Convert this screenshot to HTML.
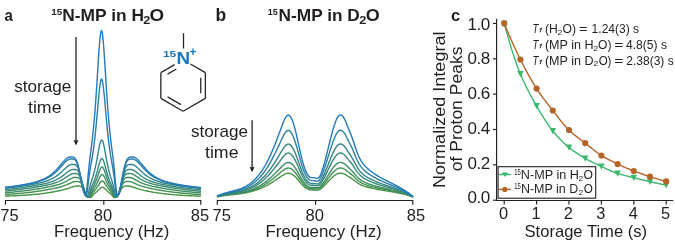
<!DOCTYPE html><html><head><meta charset="utf-8"><style>html,body{margin:0;padding:0;background:#fff;}svg{display:block;will-change:transform;}text{font-family:"Liberation Sans",sans-serif;fill:#231f20;}</style></head><body>
<svg xmlns="http://www.w3.org/2000/svg" width="675" height="242" viewBox="0 0 675 242">
<rect width="675" height="242" fill="#fff"/>
<text x="4.5" y="20.9" font-size="16.6" font-weight="bold" textLength="8.3" lengthAdjust="spacingAndGlyphs">a</text>
<text x="215.5" y="21.1" font-size="17.5" font-weight="bold">b</text>
<text x="451.0" y="20.9" font-size="16.5" font-weight="bold">c</text>
<text x="51.19" y="14.90" font-size="9.6" font-weight="bold" textLength="10.89" lengthAdjust="spacingAndGlyphs">15</text>
<text x="62.28" y="21.10" font-size="17" font-weight="bold" textLength="81.77" lengthAdjust="spacingAndGlyphs">N-MP in H</text>
<text x="143.19" y="24.20" font-size="10.2" font-weight="bold" textLength="7.03" lengthAdjust="spacingAndGlyphs">2</text>
<text x="149.49" y="21.40" font-size="17.4" font-weight="bold" textLength="14.66" lengthAdjust="spacingAndGlyphs">O</text>
<text x="267.83" y="15.30" font-size="9.6" font-weight="bold" textLength="10.03" lengthAdjust="spacingAndGlyphs">15</text>
<text x="278.58" y="21.10" font-size="17" font-weight="bold" textLength="81.25" lengthAdjust="spacingAndGlyphs">N-MP in D</text>
<text x="359.38" y="24.20" font-size="10.2" font-weight="bold" textLength="7.15" lengthAdjust="spacingAndGlyphs">2</text>
<text x="365.83" y="21.40" font-size="17.4" font-weight="bold" textLength="13.98" lengthAdjust="spacingAndGlyphs">O</text>
<line x1="190.44" y1="64.04" x2="205.36" y2="72.65" stroke="#2a2627" stroke-width="1.3" stroke-linecap="butt"/>
<line x1="205.36" y1="72.65" x2="205.36" y2="98.35" stroke="#2a2627" stroke-width="1.3" stroke-linecap="butt"/>
<line x1="205.36" y1="98.35" x2="183.10" y2="111.20" stroke="#2a2627" stroke-width="1.3" stroke-linecap="butt"/>
<line x1="183.10" y1="111.20" x2="160.84" y2="98.35" stroke="#2a2627" stroke-width="1.3" stroke-linecap="butt"/>
<line x1="160.84" y1="98.35" x2="160.84" y2="72.65" stroke="#2a2627" stroke-width="1.3" stroke-linecap="butt"/>
<line x1="160.84" y1="72.65" x2="174.64" y2="64.68" stroke="#2a2627" stroke-width="1.3" stroke-linecap="butt"/>
<line x1="200.76" y1="77.75" x2="200.76" y2="93.25" stroke="#2a2627" stroke-width="1.3" stroke-linecap="butt"/>
<line x1="180.98" y1="104.67" x2="167.56" y2="96.92" stroke="#2a2627" stroke-width="1.3" stroke-linecap="butt"/>
<line x1="167.56" y1="74.08" x2="176.39" y2="68.99" stroke="#2a2627" stroke-width="1.3" stroke-linecap="butt"/>
<line x1="183.5" y1="33.2" x2="183.5" y2="48.5" stroke="#2a2627" stroke-width="1.3"/>
<text x="162.9" y="57.0" font-size="9.8" font-weight="bold" textLength="13.3" lengthAdjust="spacingAndGlyphs" style="fill:#1a75bb">15</text>
<text x="176.4" y="63.7" font-size="16.3" font-weight="bold" textLength="13.6" lengthAdjust="spacingAndGlyphs" style="fill:#1a75bb">N</text>
<text x="189.5" y="55.6" font-size="12" font-weight="bold" style="fill:#1a75bb">+</text>
<text x="14.3" y="91.8" font-size="17" textLength="57" lengthAdjust="spacingAndGlyphs">storage</text>
<text x="28.0" y="112.9" font-size="17" textLength="33.5" lengthAdjust="spacingAndGlyphs">time</text>
<line x1="76.0" y1="36.9" x2="76.0" y2="142.0" stroke="#231f20" stroke-width="1.3"/>
<path d="M76.00,145.50 L73.50,140.10 L76.00,140.70 L78.50,140.10 Z" fill="#231f20"/>
<text x="191.0" y="137.1" font-size="17" textLength="57" lengthAdjust="spacingAndGlyphs">storage</text>
<text x="205.0" y="158.2" font-size="17" textLength="33.5" lengthAdjust="spacingAndGlyphs">time</text>
<line x1="252.1" y1="120.2" x2="252.1" y2="168.7" stroke="#231f20" stroke-width="1.3"/>
<path d="M252.10,172.20 L249.60,166.80 L252.10,167.40 L254.60,166.80 Z" fill="#231f20"/>
<path d="M5.00,196.11L6.00,196.08L7.00,196.04L8.00,196.01L9.00,195.97L10.00,195.94L11.00,195.90L12.00,195.86L13.00,195.81L14.00,195.77L15.00,195.73L16.00,195.68L17.00,195.63L18.00,195.58L19.00,195.53L20.00,195.48L21.00,195.42L22.00,195.36L23.00,195.30L24.00,195.24L25.00,195.18L26.00,195.11L27.00,195.04L28.00,194.97L29.00,194.89L30.00,194.82L31.00,194.74L32.00,194.65L33.00,194.57L34.00,194.48L35.00,194.38L36.00,194.28L37.00,194.18L38.00,194.08L39.00,193.97L40.00,193.86L41.00,193.74L42.00,193.62L43.00,193.49L44.00,193.36L45.00,193.22L46.00,193.08L47.00,192.93L48.00,192.78L49.00,192.63L50.00,192.46L51.00,192.30L52.00,192.12L53.00,191.95L54.00,191.76L55.00,191.57L56.00,191.38L57.00,191.18L58.00,190.97L59.00,190.76L60.00,190.54L61.00,190.31L62.00,190.07L63.00,189.83L64.00,189.58L65.00,189.31L66.00,189.03L67.00,188.74L68.00,188.43L69.00,188.11L70.00,187.76L71.00,187.41L72.00,187.05L73.00,186.71L74.00,186.40L75.00,186.17L76.00,186.03L77.00,186.00L78.00,186.00L79.00,186.04L80.00,186.18L80.50,186.33L81.00,186.55L81.50,186.86L82.00,187.28L82.50,187.83L83.00,188.51L83.50,189.32L84.00,190.24L84.50,191.25L85.00,192.30L85.50,193.34L86.00,194.32L86.50,195.19L87.00,195.92L87.50,196.49L88.00,196.89L88.50,197.17L89.00,197.33L89.50,197.42L90.00,197.47L90.50,197.46L91.00,197.32L91.50,196.93L92.00,196.31L92.50,195.61L93.00,194.96L93.50,194.40L94.00,193.93L94.50,193.51L95.00,193.12L95.50,192.73L96.00,192.33L96.50,191.91L97.00,191.46L97.50,190.99L98.00,190.50L98.50,189.99L99.00,189.48L99.50,188.99L100.00,188.52L100.50,188.10L101.00,187.75L101.50,187.49L102.00,187.34L102.50,187.30L103.00,187.39L103.50,187.59L104.00,187.89L104.50,188.27L105.00,188.71L105.50,189.20L106.00,189.70L106.50,190.21L107.00,190.71L107.50,191.20L108.00,191.66L108.50,192.09L109.00,192.50L109.50,192.90L110.00,193.29L110.50,193.68L111.00,194.12L111.50,194.63L112.00,195.23L112.50,195.92L113.00,196.60L113.50,197.13L114.00,197.41L114.50,197.47L115.00,197.45L115.50,197.39L116.00,197.27L116.50,197.06L117.00,196.74L117.50,196.26L118.00,195.63L118.50,194.83L119.00,193.91L119.50,192.89L120.00,191.84L120.50,190.80L121.00,189.83L121.50,188.95L122.00,188.20L122.50,187.58L123.00,187.09L124.00,186.44L125.00,186.14L126.00,186.03L127.00,186.00L128.00,186.00L129.00,186.05L130.00,186.21L131.00,186.47L132.00,186.78L133.00,187.13L134.00,187.49L135.00,187.84L136.00,188.18L137.00,188.50L138.00,188.80L139.00,189.09L140.00,189.37L141.00,189.63L142.00,189.88L143.00,190.12L144.00,190.36L145.00,190.58L146.00,190.80L147.00,191.01L148.00,191.22L149.00,191.42L150.00,191.61L151.00,191.80L152.00,191.99L153.00,192.16L154.00,192.33L155.00,192.50L156.00,192.66L157.00,192.82L158.00,192.97L159.00,193.11L160.00,193.25L161.00,193.39L162.00,193.52L163.00,193.64L164.00,193.76L165.00,193.88L166.00,193.99L167.00,194.10L168.00,194.21L169.00,194.31L170.00,194.40L171.00,194.50L172.00,194.59L173.00,194.67L174.00,194.75L175.00,194.83L176.00,194.91L177.00,194.99L178.00,195.06L179.00,195.13L180.00,195.19L181.00,195.26L182.00,195.32L183.00,195.38L184.00,195.43L185.00,195.49L186.00,195.54L187.00,195.59L188.00,195.64L189.00,195.69L190.00,195.74L191.00,195.78L192.00,195.82L193.00,195.86L194.00,195.90L195.00,195.94L196.00,195.98L197.00,196.02L198.00,196.05L199.00,196.09L200.00,196.12L201.00,196.15" fill="none" stroke="#489446" stroke-width="1.4" stroke-linejoin="round"/>
<path d="M5.00,194.50L6.00,194.44L7.00,194.38L8.00,194.31L9.00,194.24L10.00,194.17L11.00,194.10L12.00,194.03L13.00,193.95L14.00,193.88L15.00,193.80L16.00,193.72L17.00,193.63L18.00,193.55L19.00,193.46L20.00,193.37L21.00,193.27L22.00,193.18L23.00,193.08L24.00,192.98L25.00,192.87L26.00,192.77L27.00,192.66L28.00,192.55L29.00,192.43L30.00,192.31L31.00,192.19L32.00,192.07L33.00,191.94L34.00,191.81L35.00,191.67L36.00,191.53L37.00,191.39L38.00,191.25L39.00,191.10L40.00,190.95L41.00,190.79L42.00,190.63L43.00,190.47L44.00,190.30L45.00,190.13L46.00,189.96L47.00,189.78L48.00,189.60L49.00,189.41L50.00,189.22L51.00,189.03L52.00,188.83L53.00,188.62L54.00,188.41L55.00,188.19L56.00,187.97L57.00,187.74L58.00,187.50L59.00,187.25L60.00,186.98L61.00,186.71L62.00,186.42L63.00,186.11L64.00,185.78L65.00,185.42L66.00,185.04L67.00,184.64L68.00,184.20L69.00,183.75L70.00,183.28L71.00,182.82L72.00,182.38L73.00,182.00L74.00,181.70L75.00,181.53L76.00,181.50L77.00,181.50L78.00,181.55L79.00,181.72L80.00,182.16L80.50,182.53L81.00,183.03L81.50,183.68L82.00,184.50L82.50,185.48L83.00,186.62L83.50,187.88L84.00,189.24L84.50,190.63L85.00,191.99L85.50,193.26L86.00,194.39L86.50,195.33L87.00,196.07L87.50,196.62L88.00,196.99L88.50,197.23L89.00,197.37L89.50,197.42L90.00,197.34L90.50,196.96L91.00,196.23L91.50,195.26L92.00,194.26L92.50,193.37L93.00,192.59L93.50,191.92L94.00,191.32L94.50,190.73L95.00,190.15L95.50,189.54L96.00,188.89L96.50,188.20L97.00,187.47L97.50,186.70L98.00,185.90L98.50,185.09L99.00,184.27L99.50,183.48L100.00,182.75L100.50,182.10L101.00,181.58L101.50,181.21L102.00,181.02L102.50,181.02L103.00,181.21L103.50,181.58L104.00,182.10L104.50,182.75L105.00,183.48L105.50,184.27L106.00,185.08L106.50,185.90L107.00,186.70L107.50,187.47L108.00,188.20L108.50,188.89L109.00,189.53L109.50,190.15L110.00,190.73L110.50,191.32L111.00,191.92L111.50,192.59L112.00,193.36L112.50,194.26L113.00,195.26L113.50,196.22L114.00,196.96L114.50,197.34L115.00,197.42L115.50,197.37L116.00,197.23L116.50,196.99L117.00,196.62L117.50,196.07L118.00,195.33L118.50,194.39L119.00,193.26L119.50,191.99L120.00,190.63L120.50,189.24L121.00,187.89L121.50,186.62L122.00,185.49L122.50,184.50L123.00,183.69L124.00,182.53L125.00,181.89L126.00,181.61L127.00,181.52L128.00,181.50L129.00,181.50L130.00,181.60L131.00,181.84L132.00,182.18L133.00,182.59L134.00,183.05L135.00,183.52L136.00,183.98L137.00,184.42L138.00,184.84L139.00,185.23L140.00,185.60L141.00,185.94L142.00,186.26L143.00,186.56L144.00,186.85L145.00,187.12L146.00,187.37L147.00,187.62L148.00,187.85L149.00,188.08L150.00,188.30L151.00,188.52L152.00,188.72L153.00,188.93L154.00,189.12L155.00,189.32L156.00,189.51L157.00,189.69L158.00,189.87L159.00,190.05L160.00,190.22L161.00,190.39L162.00,190.55L163.00,190.71L164.00,190.87L165.00,191.02L166.00,191.17L167.00,191.32L168.00,191.46L169.00,191.60L170.00,191.74L171.00,191.87L172.00,192.00L173.00,192.13L174.00,192.25L175.00,192.37L176.00,192.49L177.00,192.60L178.00,192.71L179.00,192.82L180.00,192.93L181.00,193.03L182.00,193.13L183.00,193.23L184.00,193.32L185.00,193.41L186.00,193.50L187.00,193.59L188.00,193.67L189.00,193.76L190.00,193.84L191.00,193.92L192.00,193.99L193.00,194.07L194.00,194.14L195.00,194.21L196.00,194.28L197.00,194.34L198.00,194.41L199.00,194.47L200.00,194.53L201.00,194.59" fill="none" stroke="#449153" stroke-width="1.4" stroke-linejoin="round"/>
<path d="M5.00,192.81L6.00,192.73L7.00,192.64L8.00,192.56L9.00,192.47L10.00,192.37L11.00,192.28L12.00,192.18L13.00,192.09L14.00,191.99L15.00,191.88L16.00,191.78L17.00,191.67L18.00,191.56L19.00,191.45L20.00,191.34L21.00,191.22L22.00,191.10L23.00,190.98L24.00,190.86L25.00,190.73L26.00,190.60L27.00,190.47L28.00,190.34L29.00,190.20L30.00,190.07L31.00,189.92L32.00,189.78L33.00,189.63L34.00,189.48L35.00,189.33L36.00,189.18L37.00,189.02L38.00,188.86L39.00,188.69L40.00,188.53L41.00,188.36L42.00,188.18L43.00,188.00L44.00,187.82L45.00,187.64L46.00,187.45L47.00,187.26L48.00,187.06L49.00,186.85L50.00,186.64L51.00,186.43L52.00,186.20L53.00,185.97L54.00,185.73L55.00,185.47L56.00,185.21L57.00,184.93L58.00,184.63L59.00,184.32L60.00,183.98L61.00,183.62L62.00,183.23L63.00,182.81L64.00,182.36L65.00,181.88L66.00,181.36L67.00,180.82L68.00,180.25L69.00,179.67L70.00,179.10L71.00,178.57L72.00,178.12L73.00,177.77L74.00,177.56L75.00,177.50L76.00,177.50L77.00,177.54L78.00,177.71L79.00,178.15L80.00,179.05L80.50,179.73L81.00,180.59L81.50,181.63L82.00,182.87L82.50,184.27L83.00,185.81L83.50,187.44L84.00,189.09L84.50,190.71L85.00,192.22L85.50,193.56L86.00,194.70L86.50,195.60L87.00,196.29L87.50,196.77L88.00,197.09L88.50,197.28L89.00,197.34L89.50,197.13L90.00,196.50L90.50,195.46L91.00,194.22L91.50,192.98L92.00,191.88L92.50,190.92L93.00,190.07L93.50,189.29L94.00,188.53L94.50,187.76L95.00,186.96L95.50,186.11L96.00,185.20L96.50,184.23L97.00,183.20L97.50,182.12L98.00,181.00L98.50,179.87L99.00,178.74L99.50,177.67L100.00,176.68L100.50,175.83L101.00,175.16L101.50,174.71L102.00,174.51L102.50,174.57L103.00,174.90L103.50,175.46L104.00,176.23L104.50,177.16L105.00,178.20L105.50,179.30L106.00,180.44L106.50,181.57L107.00,182.67L107.50,183.72L108.00,184.72L108.50,185.66L109.00,186.54L109.50,187.37L110.00,188.15L110.50,188.91L111.00,189.67L111.50,190.48L112.00,191.38L112.50,192.41L113.00,193.59L113.50,194.85L114.00,196.02L114.50,196.87L115.00,197.28L115.50,197.33L116.00,197.20L116.50,196.95L117.00,196.55L117.50,195.97L118.00,195.18L118.50,194.16L119.00,192.91L119.50,191.48L120.00,189.91L120.50,188.27L121.00,186.62L121.50,185.03L122.00,183.55L122.50,182.23L123.00,181.09L124.00,179.37L125.00,178.32L126.00,177.79L127.00,177.57L128.00,177.51L129.00,177.50L130.00,177.53L131.00,177.70L132.00,178.02L133.00,178.45L134.00,178.96L135.00,179.53L136.00,180.10L137.00,180.68L138.00,181.23L139.00,181.75L140.00,182.25L141.00,182.71L142.00,183.13L143.00,183.53L144.00,183.89L145.00,184.24L146.00,184.56L147.00,184.86L148.00,185.14L149.00,185.41L150.00,185.67L151.00,185.91L152.00,186.15L153.00,186.37L154.00,186.59L155.00,186.80L156.00,187.01L157.00,187.21L158.00,187.40L159.00,187.59L160.00,187.78L161.00,187.96L162.00,188.14L163.00,188.31L164.00,188.48L165.00,188.65L166.00,188.82L167.00,188.98L168.00,189.14L169.00,189.29L170.00,189.45L171.00,189.60L172.00,189.74L173.00,189.89L174.00,190.03L175.00,190.17L176.00,190.31L177.00,190.44L178.00,190.57L179.00,190.70L180.00,190.83L181.00,190.95L182.00,191.07L183.00,191.19L184.00,191.31L185.00,191.42L186.00,191.53L187.00,191.64L188.00,191.75L189.00,191.86L190.00,191.96L191.00,192.06L192.00,192.16L193.00,192.26L194.00,192.35L195.00,192.44L196.00,192.53L197.00,192.62L198.00,192.71L199.00,192.79L200.00,192.88L201.00,192.96" fill="none" stroke="#408e61" stroke-width="1.4" stroke-linejoin="round"/>
<path d="M5.00,191.14L6.00,191.04L7.00,190.94L8.00,190.83L9.00,190.73L10.00,190.62L11.00,190.51L12.00,190.40L13.00,190.29L14.00,190.18L15.00,190.06L16.00,189.94L17.00,189.82L18.00,189.70L19.00,189.58L20.00,189.45L21.00,189.32L22.00,189.19L23.00,189.06L24.00,188.93L25.00,188.79L26.00,188.65L27.00,188.51L28.00,188.37L29.00,188.22L30.00,188.07L31.00,187.92L32.00,187.77L33.00,187.61L34.00,187.45L35.00,187.29L36.00,187.13L37.00,186.96L38.00,186.79L39.00,186.61L40.00,186.43L41.00,186.25L42.00,186.06L43.00,185.87L44.00,185.67L45.00,185.47L46.00,185.26L47.00,185.04L48.00,184.82L49.00,184.58L50.00,184.34L51.00,184.08L52.00,183.81L53.00,183.53L54.00,183.23L55.00,182.91L56.00,182.57L57.00,182.21L58.00,181.82L59.00,181.40L60.00,180.94L61.00,180.45L62.00,179.93L63.00,179.36L64.00,178.76L65.00,178.11L66.00,177.44L67.00,176.75L68.00,176.06L69.00,175.39L70.00,174.77L71.00,174.24L72.00,173.84L73.00,173.58L74.00,173.50L75.00,173.50L76.00,173.54L77.00,173.70L78.00,174.12L79.00,175.01L80.00,176.56L80.50,177.63L81.00,178.91L81.50,180.39L82.00,182.04L82.50,183.84L83.00,185.72L83.50,187.61L84.00,189.46L84.50,191.18L85.00,192.72L85.50,194.03L86.00,195.10L86.50,195.92L87.00,196.51L87.50,196.92L88.00,197.16L88.50,197.17L89.00,196.77L89.50,195.85L90.00,194.51L90.50,193.00L91.00,191.55L91.50,190.24L92.00,189.10L92.50,188.08L93.00,187.12L93.50,186.18L94.00,185.23L94.50,184.23L95.00,183.16L95.50,182.02L96.00,180.80L96.50,179.50L97.00,178.12L97.50,176.68L98.00,175.19L98.50,173.69L99.00,172.22L99.50,170.82L100.00,169.56L100.50,168.50L101.00,167.68L101.50,167.17L102.00,167.00L102.50,167.17L103.00,167.68L103.50,168.50L104.00,169.56L104.50,170.83L105.00,172.22L105.50,173.69L106.00,175.19L106.50,176.68L107.00,178.12L107.50,179.50L108.00,180.80L108.50,182.02L109.00,183.16L109.50,184.23L110.00,185.23L110.50,186.18L111.00,187.12L111.50,188.08L112.00,189.10L112.50,190.24L113.00,191.55L113.50,193.00L114.00,194.51L114.50,195.85L115.00,196.77L115.50,197.17L116.00,197.16L116.50,196.92L117.00,196.51L117.50,195.92L118.00,195.10L118.50,194.03L119.00,192.72L119.50,191.18L120.00,189.45L120.50,187.61L121.00,185.71L121.50,183.84L122.00,182.04L122.50,180.39L123.00,178.91L124.00,176.56L125.00,175.01L126.00,174.12L127.00,173.70L128.00,173.54L129.00,173.50L130.00,173.50L131.00,173.58L132.00,173.84L133.00,174.24L134.00,174.77L135.00,175.39L136.00,176.06L137.00,176.75L138.00,177.44L139.00,178.11L140.00,178.76L141.00,179.36L142.00,179.93L143.00,180.45L144.00,180.94L145.00,181.40L146.00,181.82L147.00,182.21L148.00,182.57L149.00,182.91L150.00,183.23L151.00,183.53L152.00,183.81L153.00,184.08L154.00,184.34L155.00,184.58L156.00,184.82L157.00,185.04L158.00,185.26L159.00,185.47L160.00,185.67L161.00,185.87L162.00,186.06L163.00,186.25L164.00,186.43L165.00,186.61L166.00,186.79L167.00,186.96L168.00,187.13L169.00,187.29L170.00,187.45L171.00,187.61L172.00,187.77L173.00,187.92L174.00,188.07L175.00,188.22L176.00,188.37L177.00,188.51L178.00,188.65L179.00,188.79L180.00,188.93L181.00,189.06L182.00,189.19L183.00,189.32L184.00,189.45L185.00,189.58L186.00,189.70L187.00,189.82L188.00,189.94L189.00,190.06L190.00,190.18L191.00,190.29L192.00,190.40L193.00,190.51L194.00,190.62L195.00,190.73L196.00,190.83L197.00,190.94L198.00,191.04L199.00,191.14L200.00,191.24L201.00,191.33" fill="none" stroke="#3c8b6f" stroke-width="1.4" stroke-linejoin="round"/>
<path d="M5.00,189.66L6.00,189.55L7.00,189.44L8.00,189.33L9.00,189.22L10.00,189.11L11.00,188.99L12.00,188.87L13.00,188.75L14.00,188.63L15.00,188.51L16.00,188.39L17.00,188.26L18.00,188.13L19.00,188.00L20.00,187.87L21.00,187.74L22.00,187.60L23.00,187.46L24.00,187.32L25.00,187.18L26.00,187.04L27.00,186.89L28.00,186.74L29.00,186.59L30.00,186.43L31.00,186.27L32.00,186.11L33.00,185.95L34.00,185.78L35.00,185.61L36.00,185.43L37.00,185.25L38.00,185.06L39.00,184.87L40.00,184.67L41.00,184.47L42.00,184.26L43.00,184.04L44.00,183.81L45.00,183.58L46.00,183.33L47.00,183.07L48.00,182.80L49.00,182.51L50.00,182.21L51.00,181.88L52.00,181.54L53.00,181.18L54.00,180.78L55.00,180.36L56.00,179.91L57.00,179.42L58.00,178.90L59.00,178.33L60.00,177.73L61.00,177.07L62.00,176.38L63.00,175.64L64.00,174.87L65.00,174.06L66.00,173.25L67.00,172.45L68.00,171.68L69.00,170.98L70.00,170.38L71.00,169.91L72.00,169.61L73.00,169.50L74.00,169.50L75.00,169.53L76.00,169.68L77.00,170.09L78.00,170.95L79.00,172.47L80.00,174.82L80.50,176.33L81.00,178.04L81.50,179.94L82.00,181.96L82.50,184.07L83.00,186.18L83.50,188.23L84.00,190.14L84.50,191.86L85.00,193.33L85.50,194.55L86.00,195.50L86.50,196.21L87.00,196.70L87.50,196.97L88.00,196.88L88.50,196.24L89.00,195.01L89.50,193.38L90.00,191.63L90.50,189.97L91.00,188.48L91.50,187.16L92.00,185.96L92.50,184.83L93.00,183.71L93.50,182.57L94.00,181.36L94.50,180.08L95.00,178.70L95.50,177.23L96.00,175.64L96.50,173.95L97.00,172.17L97.50,170.32L98.00,168.42L98.50,166.52L99.00,164.66L99.50,162.93L100.00,161.38L100.50,160.10L101.00,159.17L101.50,158.62L102.00,158.51L102.50,158.84L103.00,159.59L103.50,160.71L104.00,162.13L104.50,163.78L105.00,165.58L105.50,167.47L106.00,169.38L106.50,171.26L107.00,173.08L107.50,174.81L108.00,176.45L108.50,177.98L109.00,179.41L109.50,180.74L110.00,181.98L110.50,183.15L111.00,184.28L111.50,185.40L112.00,186.56L112.50,187.81L113.00,189.21L113.50,190.79L114.00,192.51L114.50,194.23L115.00,195.69L115.50,196.64L116.00,196.98L116.50,196.87L117.00,196.48L117.50,195.88L118.00,195.05L118.50,193.97L119.00,192.62L119.50,191.02L120.00,189.20L120.50,187.21L121.00,185.12L121.50,183.00L122.00,180.93L122.50,178.96L123.00,177.16L124.00,174.15L125.00,172.01L126.00,170.67L127.00,169.95L128.00,169.62L129.00,169.52L130.00,169.50L131.00,169.51L132.00,169.67L133.00,170.01L134.00,170.52L135.00,171.15L136.00,171.87L137.00,172.65L138.00,173.46L139.00,174.27L140.00,175.06L141.00,175.83L142.00,176.56L143.00,177.24L144.00,177.88L145.00,178.48L146.00,179.03L147.00,179.55L148.00,180.03L149.00,180.47L150.00,180.88L151.00,181.27L152.00,181.63L153.00,181.97L154.00,182.29L155.00,182.59L156.00,182.87L157.00,183.14L158.00,183.39L159.00,183.64L160.00,183.87L161.00,184.10L162.00,184.31L163.00,184.52L164.00,184.72L165.00,184.92L166.00,185.11L167.00,185.29L168.00,185.47L169.00,185.65L170.00,185.82L171.00,185.99L172.00,186.15L173.00,186.31L174.00,186.47L175.00,186.62L176.00,186.78L177.00,186.93L178.00,187.07L179.00,187.22L180.00,187.36L181.00,187.50L182.00,187.64L183.00,187.77L184.00,187.90L185.00,188.04L186.00,188.17L187.00,188.29L188.00,188.42L189.00,188.54L190.00,188.66L191.00,188.78L192.00,188.90L193.00,189.02L194.00,189.13L195.00,189.25L196.00,189.36L197.00,189.47L198.00,189.58L199.00,189.69L200.00,189.79L201.00,189.89" fill="none" stroke="#37877e" stroke-width="1.4" stroke-linejoin="round"/>
<path d="M5.00,188.27L6.00,188.16L7.00,188.04L8.00,187.93L9.00,187.81L10.00,187.70L11.00,187.58L12.00,187.46L13.00,187.33L14.00,187.21L15.00,187.08L16.00,186.96L17.00,186.83L18.00,186.69L19.00,186.56L20.00,186.42L21.00,186.28L22.00,186.14L23.00,186.00L24.00,185.85L25.00,185.70L26.00,185.54L27.00,185.38L28.00,185.22L29.00,185.06L30.00,184.89L31.00,184.71L32.00,184.53L33.00,184.35L34.00,184.16L35.00,183.96L36.00,183.75L37.00,183.54L38.00,183.32L39.00,183.09L40.00,182.85L41.00,182.60L42.00,182.34L43.00,182.06L44.00,181.77L45.00,181.46L46.00,181.13L47.00,180.78L48.00,180.42L49.00,180.02L50.00,179.60L51.00,179.15L52.00,178.67L53.00,178.15L54.00,177.59L55.00,177.00L56.00,176.35L57.00,175.66L58.00,174.93L59.00,174.14L60.00,173.30L61.00,172.42L62.00,171.50L63.00,170.55L64.00,169.59L65.00,168.63L66.00,167.70L67.00,166.83L68.00,166.05L69.00,165.40L70.00,164.91L71.00,164.60L72.00,164.50L73.00,164.50L74.00,164.54L75.00,164.72L76.00,165.18L77.00,166.13L78.00,167.79L79.00,170.31L80.00,173.76L80.50,175.80L81.00,178.01L81.50,180.32L82.00,182.69L82.50,185.02L83.00,187.26L83.50,189.34L84.00,191.19L84.50,192.79L85.00,194.11L85.50,195.16L86.00,195.94L86.50,196.45L87.00,196.54L87.50,195.98L88.00,194.64L88.50,192.68L89.00,190.43L89.50,188.19L90.00,186.11L90.50,184.25L91.00,182.56L91.50,180.99L92.00,179.48L92.50,177.95L93.00,176.38L93.50,174.71L94.00,172.93L94.50,171.01L95.00,168.94L95.50,166.71L96.00,164.33L96.50,161.81L97.00,159.15L97.50,156.40L98.00,153.61L98.50,150.84L99.00,148.17L99.50,145.71L100.00,143.57L100.50,141.85L101.00,140.66L101.50,140.06L102.00,140.10L102.50,140.78L103.00,142.05L103.50,143.83L104.00,146.02L104.50,148.51L105.00,151.20L105.50,153.98L106.00,156.77L106.50,159.51L107.00,162.14L107.50,164.65L108.00,167.01L108.50,169.22L109.00,171.27L109.50,173.17L110.00,174.93L110.50,176.59L111.00,178.16L111.50,179.68L112.00,181.20L112.50,182.77L113.00,184.48L113.50,186.37L114.00,188.47L114.50,190.73L115.00,192.96L115.50,194.86L116.00,196.10L116.50,196.56L117.00,196.40L117.50,195.85L118.00,195.04L118.50,193.96L119.00,192.60L119.50,190.97L120.00,189.08L120.50,186.98L121.00,184.72L121.50,182.38L122.00,180.02L122.50,177.71L123.00,175.53L124.00,171.70L125.00,168.77L126.00,166.76L127.00,165.52L128.00,164.88L129.00,164.60L130.00,164.51L131.00,164.50L132.00,164.53L133.00,164.75L134.00,165.16L135.00,165.75L136.00,166.48L137.00,167.31L138.00,168.22L139.00,169.17L140.00,170.13L141.00,171.09L142.00,172.03L143.00,172.93L144.00,173.78L145.00,174.59L146.00,175.35L147.00,176.06L148.00,176.72L149.00,177.34L150.00,177.91L151.00,178.45L152.00,178.95L153.00,179.41L154.00,179.84L155.00,180.25L156.00,180.63L157.00,180.98L158.00,181.32L159.00,181.63L160.00,181.93L161.00,182.22L162.00,182.49L163.00,182.74L164.00,182.99L165.00,183.22L166.00,183.45L167.00,183.66L168.00,183.87L169.00,184.07L170.00,184.27L171.00,184.45L172.00,184.64L173.00,184.81L174.00,184.98L175.00,185.15L176.00,185.31L177.00,185.47L178.00,185.63L179.00,185.78L180.00,185.93L181.00,186.08L182.00,186.22L183.00,186.36L184.00,186.50L185.00,186.64L186.00,186.77L187.00,186.90L188.00,187.03L189.00,187.16L190.00,187.28L191.00,187.40L192.00,187.53L193.00,187.64L194.00,187.76L195.00,187.88L196.00,187.99L197.00,188.11L198.00,188.22L199.00,188.33L200.00,188.44L201.00,188.54" fill="none" stroke="#32848f" stroke-width="1.4" stroke-linejoin="round"/>
<path d="M5.00,187.44L6.00,187.32L7.00,187.21L8.00,187.09L9.00,186.97L10.00,186.85L11.00,186.73L12.00,186.61L13.00,186.48L14.00,186.35L15.00,186.22L16.00,186.08L17.00,185.94L18.00,185.80L19.00,185.66L20.00,185.51L21.00,185.36L22.00,185.20L23.00,185.04L24.00,184.87L25.00,184.70L26.00,184.52L27.00,184.34L28.00,184.15L29.00,183.96L30.00,183.75L31.00,183.54L32.00,183.32L33.00,183.09L34.00,182.86L35.00,182.60L36.00,182.34L37.00,182.07L38.00,181.78L39.00,181.47L40.00,181.15L41.00,180.81L42.00,180.45L43.00,180.06L44.00,179.65L45.00,179.22L46.00,178.76L47.00,178.26L48.00,177.73L49.00,177.17L50.00,176.56L51.00,175.91L52.00,175.22L53.00,174.48L54.00,173.68L55.00,172.84L56.00,171.94L57.00,170.98L58.00,169.98L59.00,168.93L60.00,167.83L61.00,166.71L62.00,165.58L63.00,164.45L64.00,163.35L65.00,162.31L66.00,161.35L67.00,160.52L68.00,159.85L69.00,159.35L70.00,159.07L71.00,159.00L72.00,159.01L73.00,159.07L74.00,159.30L75.00,159.87L76.00,160.98L77.00,162.84L78.00,165.61L79.00,169.35L80.00,173.94L80.50,176.46L81.00,179.05L81.50,181.64L82.00,184.16L82.50,186.55L83.00,188.75L83.50,190.70L84.00,192.37L84.50,193.76L85.00,194.85L85.50,195.59L86.00,195.69L86.50,194.74L87.00,192.49L87.50,189.10L88.00,185.08L88.50,180.95L89.00,177.03L89.50,173.46L90.00,170.22L90.50,167.22L91.00,164.35L91.50,161.51L92.00,158.61L92.50,155.57L93.00,152.33L93.50,148.86L94.00,145.11L94.50,141.06L95.00,136.69L95.50,132.00L96.00,127.00L96.50,121.71L97.00,116.19L97.50,110.52L98.00,104.80L98.50,99.18L99.00,93.86L99.50,89.04L100.00,84.95L100.50,81.80L101.00,79.77L101.50,79.01L102.00,79.54L102.50,81.35L103.00,84.31L103.50,88.25L104.00,92.96L104.50,98.20L105.00,103.78L105.50,109.49L106.00,115.18L106.50,120.74L107.00,126.07L107.50,131.13L108.00,135.88L108.50,140.30L109.00,144.41L109.50,148.21L110.00,151.73L110.50,155.00L111.00,158.08L111.50,161.00L112.00,163.84L112.50,166.70L113.00,169.67L113.50,172.86L114.00,176.36L114.50,180.22L115.00,184.34L115.50,188.41L116.00,191.95L116.50,194.44L117.00,195.61L117.50,195.66L118.00,195.02L118.50,193.98L119.00,192.64L119.50,191.02L120.00,189.12L120.50,186.96L121.00,184.60L121.50,182.10L122.00,179.51L122.50,176.92L123.00,174.38L124.00,169.73L125.00,165.91L126.00,163.05L127.00,161.11L128.00,159.95L129.00,159.34L130.00,159.08L131.00,159.01L132.00,159.00L133.00,159.05L134.00,159.32L135.00,159.79L136.00,160.46L137.00,161.27L138.00,162.22L139.00,163.25L140.00,164.35L141.00,165.48L142.00,166.61L143.00,167.73L144.00,168.83L145.00,169.88L146.00,170.89L147.00,171.85L148.00,172.76L149.00,173.61L150.00,174.41L151.00,175.15L152.00,175.85L153.00,176.51L154.00,177.11L155.00,177.68L156.00,178.22L157.00,178.71L158.00,179.18L159.00,179.62L160.00,180.03L161.00,180.41L162.00,180.78L163.00,181.12L164.00,181.44L165.00,181.75L166.00,182.04L167.00,182.32L168.00,182.58L169.00,182.83L170.00,183.07L171.00,183.30L172.00,183.52L173.00,183.74L174.00,183.94L175.00,184.14L176.00,184.33L177.00,184.51L178.00,184.69L179.00,184.86L180.00,185.02L181.00,185.18L182.00,185.34L183.00,185.49L184.00,185.64L185.00,185.79L186.00,185.93L187.00,186.07L188.00,186.21L189.00,186.34L190.00,186.47L191.00,186.60L192.00,186.72L193.00,186.84L194.00,186.96L195.00,187.08L196.00,187.20L197.00,187.31L198.00,187.43L199.00,187.54L200.00,187.65L201.00,187.75" fill="none" stroke="#2c7fa2" stroke-width="1.4" stroke-linejoin="round"/>
<path d="M5.00,187.32L6.00,187.21L7.00,187.09L8.00,186.98L9.00,186.86L10.00,186.73L11.00,186.61L12.00,186.48L13.00,186.35L14.00,186.22L15.00,186.08L16.00,185.94L17.00,185.80L18.00,185.65L19.00,185.50L20.00,185.34L21.00,185.18L22.00,185.01L23.00,184.84L24.00,184.67L25.00,184.48L26.00,184.29L27.00,184.10L28.00,183.89L29.00,183.68L30.00,183.46L31.00,183.23L32.00,182.99L33.00,182.74L34.00,182.47L35.00,182.19L36.00,181.90L37.00,181.59L38.00,181.27L39.00,180.93L40.00,180.56L41.00,180.18L42.00,179.77L43.00,179.34L44.00,178.87L45.00,178.38L46.00,177.85L47.00,177.29L48.00,176.69L49.00,176.05L50.00,175.36L51.00,174.63L52.00,173.84L53.00,173.01L54.00,172.12L55.00,171.17L56.00,170.17L57.00,169.11L58.00,168.01L59.00,166.87L60.00,165.69L61.00,164.49L62.00,163.30L63.00,162.13L64.00,161.00L65.00,159.96L66.00,159.02L67.00,158.24L68.00,157.62L69.00,157.21L70.00,157.01L71.00,157.00L72.00,157.02L73.00,157.15L74.00,157.51L75.00,158.30L76.00,159.72L77.00,161.97L78.00,165.18L79.00,169.36L80.00,174.30L80.50,176.95L81.00,179.62L81.50,182.26L82.00,184.80L82.50,187.16L83.00,189.30L83.50,191.18L84.00,192.77L84.50,194.07L85.00,195.00L85.50,195.30L86.00,194.41L86.50,191.87L87.00,187.72L87.50,182.50L88.00,176.90L88.50,171.46L89.00,166.43L89.50,161.86L90.00,157.67L90.50,153.71L91.00,149.84L91.50,145.93L92.00,141.89L92.50,137.61L93.00,133.03L93.50,128.10L94.00,122.77L94.50,117.01L95.00,110.80L95.50,104.14L96.00,97.04L96.50,89.55L97.00,81.75L97.50,73.75L98.00,65.71L98.50,57.87L99.00,50.46L99.50,43.81L100.00,38.21L100.50,33.98L101.00,31.35L101.50,30.50L102.00,31.48L102.50,34.23L103.00,38.57L103.50,44.25L104.00,50.97L104.50,58.42L105.00,66.29L105.50,74.33L106.00,82.32L106.50,90.10L107.00,97.56L107.50,104.63L108.00,111.26L108.50,117.44L109.00,123.17L109.50,128.47L110.00,133.37L110.50,137.93L111.00,142.18L111.50,146.22L112.00,150.12L112.50,153.99L113.00,157.96L113.50,162.18L114.00,166.78L114.50,171.84L115.00,177.30L115.50,182.89L116.00,188.06L116.50,192.11L117.00,194.53L117.50,195.31L118.00,194.95L118.50,193.98L119.00,192.67L119.50,191.05L120.00,189.16L120.50,187.00L121.00,184.62L121.50,182.08L122.00,179.43L122.50,176.75L123.00,174.12L124.00,169.19L125.00,165.05L126.00,161.87L127.00,159.65L128.00,158.26L129.00,157.49L130.00,157.14L131.00,157.02L132.00,157.00L133.00,157.02L134.00,157.22L135.00,157.64L136.00,158.26L137.00,159.05L138.00,159.99L139.00,161.04L140.00,162.17L141.00,163.34L142.00,164.54L143.00,165.73L144.00,166.91L145.00,168.05L146.00,169.15L147.00,170.20L148.00,171.20L149.00,172.15L150.00,173.04L151.00,173.87L152.00,174.65L153.00,175.39L154.00,176.07L155.00,176.71L156.00,177.31L157.00,177.87L158.00,178.40L159.00,178.89L160.00,179.35L161.00,179.79L162.00,180.19L163.00,180.58L164.00,180.94L165.00,181.28L166.00,181.61L167.00,181.91L168.00,182.20L169.00,182.48L170.00,182.75L171.00,183.00L172.00,183.24L173.00,183.47L174.00,183.69L175.00,183.90L176.00,184.10L177.00,184.30L178.00,184.49L179.00,184.67L180.00,184.85L181.00,185.02L182.00,185.18L183.00,185.35L184.00,185.50L185.00,185.65L186.00,185.80L187.00,185.94L188.00,186.08L189.00,186.22L190.00,186.35L191.00,186.49L192.00,186.61L193.00,186.74L194.00,186.86L195.00,186.98L196.00,187.10L197.00,187.21L198.00,187.33L199.00,187.44L200.00,187.55L201.00,187.66" fill="none" stroke="#2479be" stroke-width="1.4" stroke-linejoin="round"/>
<path d="M217.00,196.81L218.00,196.58L219.00,196.37L220.00,196.18L221.00,196.01L222.00,195.85L223.00,195.71L224.00,195.57L225.00,195.44L226.00,195.32L227.00,195.21L228.00,195.10L229.00,194.99L230.00,194.88L231.00,194.78L232.00,194.68L233.00,194.57L234.00,194.46L235.00,194.36L236.00,194.24L237.00,194.13L238.00,194.00L239.00,193.88L240.00,193.74L241.00,193.60L242.00,193.45L243.00,193.29L244.00,193.12L245.00,192.94L246.00,192.75L247.00,192.54L248.00,192.33L249.00,192.10L250.00,191.86L251.00,191.61L252.00,191.34L253.00,191.05L254.00,190.75L255.00,190.44L256.00,190.11L257.00,189.76L258.00,189.40L259.00,189.02L260.00,188.62L261.00,188.21L262.00,187.78L263.00,187.32L264.00,186.85L265.00,186.37L266.00,185.86L267.00,185.33L268.00,184.79L269.00,184.22L270.00,183.63L271.00,183.03L272.00,182.42L273.00,181.79L274.00,181.15L275.00,180.49L276.00,179.83L277.00,179.17L278.00,178.50L279.00,177.82L280.00,177.14L281.00,176.46L282.00,175.79L283.00,175.15L284.00,174.56L285.00,174.05L286.00,173.65L287.00,173.36L288.00,173.23L289.00,173.25L290.00,173.45L291.00,173.81L292.00,174.31L293.00,174.95L294.00,175.72L295.00,176.60L296.00,177.59L297.00,178.67L298.00,179.82L299.00,181.00L300.00,182.19L301.00,183.37L302.00,184.49L303.00,185.54L304.00,186.50L305.00,187.35L306.00,188.09L307.00,188.71L308.00,189.20L309.00,189.55L310.00,189.77L311.00,189.88L312.00,189.93L313.00,189.94L314.00,189.96L315.00,190.02L316.00,190.11L317.00,190.18L318.00,190.13L319.00,189.90L320.00,189.43L321.00,188.75L322.00,187.92L323.00,186.99L324.00,186.00L325.00,184.97L326.00,183.91L327.00,182.83L328.00,181.75L329.00,180.69L330.00,179.64L331.00,178.63L332.00,177.66L333.00,176.75L334.00,175.92L335.00,175.18L336.00,174.53L337.00,174.00L338.00,173.59L339.00,173.33L340.00,173.20L341.00,173.20L342.00,173.33L343.00,173.58L344.00,173.94L345.00,174.41L346.00,174.97L347.00,175.59L348.00,176.23L349.00,176.84L350.00,177.45L351.00,178.07L352.00,178.72L353.00,179.43L354.00,180.20L355.00,181.01L356.00,181.81L357.00,182.56L358.00,183.24L359.00,183.85L360.00,184.40L361.00,184.90L362.00,185.35L363.00,185.75L364.00,186.11L365.00,186.44L366.00,186.73L367.00,187.01L368.00,187.27L369.00,187.52L370.00,187.76L371.00,187.99L372.00,188.22L373.00,188.44L374.00,188.65L375.00,188.86L376.00,189.06L377.00,189.26L378.00,189.45L379.00,189.64L380.00,189.82L381.00,190.00L382.00,190.17L383.00,190.34L384.00,190.51L385.00,190.68L386.00,190.85L387.00,191.01L388.00,191.18L389.00,191.34L390.00,191.51L391.00,191.67L392.00,191.84L393.00,192.01L394.00,192.18L395.00,192.35L396.00,192.53L397.00,192.71L398.00,192.90L399.00,193.10L400.00,193.30L401.00,193.50L402.00,193.72L403.00,193.94L404.00,194.18L405.00,194.42L406.00,194.68L407.00,194.96L408.00,195.25L409.00,195.56L410.00,195.89L411.00,196.25L412.00,196.64L413.00,197.08" fill="none" stroke="#489446" stroke-width="1.4" stroke-linejoin="round"/>
<path d="M217.00,196.73L218.00,196.47L219.00,196.24L220.00,196.03L221.00,195.83L222.00,195.65L223.00,195.49L224.00,195.33L225.00,195.19L226.00,195.05L227.00,194.91L228.00,194.79L229.00,194.66L230.00,194.54L231.00,194.42L232.00,194.30L233.00,194.18L234.00,194.06L235.00,193.93L236.00,193.80L237.00,193.66L238.00,193.52L239.00,193.37L240.00,193.21L241.00,193.05L242.00,192.87L243.00,192.68L244.00,192.48L245.00,192.27L246.00,192.04L247.00,191.80L248.00,191.55L249.00,191.28L250.00,190.99L251.00,190.69L252.00,190.37L253.00,190.03L254.00,189.67L255.00,189.30L256.00,188.90L257.00,188.48L258.00,188.05L259.00,187.59L260.00,187.11L261.00,186.61L262.00,186.08L263.00,185.53L264.00,184.96L265.00,184.36L266.00,183.74L267.00,183.10L268.00,182.43L269.00,181.73L270.00,181.01L271.00,180.27L272.00,179.51L273.00,178.73L274.00,177.94L275.00,177.13L276.00,176.31L277.00,175.48L278.00,174.64L279.00,173.80L280.00,172.95L281.00,172.09L282.00,171.25L283.00,170.45L284.00,169.71L285.00,169.08L286.00,168.57L287.00,168.21L288.00,168.03L289.00,168.07L290.00,168.32L291.00,168.76L292.00,169.40L293.00,170.20L294.00,171.16L295.00,172.27L296.00,173.51L297.00,174.86L298.00,176.29L299.00,177.75L300.00,179.23L301.00,180.68L302.00,182.07L303.00,183.36L304.00,184.53L305.00,185.57L306.00,186.47L307.00,187.22L308.00,187.81L309.00,188.23L310.00,188.49L311.00,188.63L312.00,188.68L313.00,188.70L314.00,188.72L315.00,188.79L316.00,188.90L317.00,188.98L318.00,188.93L319.00,188.65L320.00,188.08L321.00,187.26L322.00,186.25L323.00,185.12L324.00,183.92L325.00,182.65L326.00,181.35L327.00,180.02L328.00,178.69L329.00,177.37L330.00,176.07L331.00,174.81L332.00,173.60L333.00,172.46L334.00,171.42L335.00,170.48L336.00,169.67L337.00,169.00L338.00,168.49L339.00,168.16L340.00,168.00L341.00,168.00L342.00,168.17L343.00,168.48L344.00,168.93L345.00,169.52L346.00,170.23L347.00,171.01L348.00,171.80L349.00,172.57L350.00,173.33L351.00,174.11L352.00,174.92L353.00,175.80L354.00,176.77L355.00,177.77L356.00,178.76L357.00,179.68L358.00,180.52L359.00,181.28L360.00,181.96L361.00,182.57L362.00,183.12L363.00,183.61L364.00,184.05L365.00,184.45L366.00,184.81L367.00,185.15L368.00,185.47L369.00,185.77L370.00,186.06L371.00,186.35L372.00,186.62L373.00,186.89L374.00,187.15L375.00,187.40L376.00,187.64L377.00,187.88L378.00,188.11L379.00,188.33L380.00,188.55L381.00,188.77L382.00,188.98L383.00,189.18L384.00,189.39L385.00,189.59L386.00,189.79L387.00,189.98L388.00,190.18L389.00,190.38L390.00,190.57L391.00,190.77L392.00,190.97L393.00,191.17L394.00,191.37L395.00,191.58L396.00,191.79L397.00,192.00L398.00,192.23L399.00,192.45L400.00,192.69L401.00,192.93L402.00,193.19L403.00,193.45L404.00,193.72L405.00,194.01L406.00,194.31L407.00,194.63L408.00,194.96L409.00,195.32L410.00,195.69L411.00,196.10L412.00,196.54L413.00,197.03" fill="none" stroke="#439155" stroke-width="1.4" stroke-linejoin="round"/>
<path d="M217.00,196.67L218.00,196.39L219.00,196.13L220.00,195.90L221.00,195.69L222.00,195.49L223.00,195.30L224.00,195.13L225.00,194.96L226.00,194.81L227.00,194.66L228.00,194.51L229.00,194.37L230.00,194.24L231.00,194.10L232.00,193.96L233.00,193.83L234.00,193.69L235.00,193.54L236.00,193.39L237.00,193.24L238.00,193.07L239.00,192.90L240.00,192.72L241.00,192.53L242.00,192.33L243.00,192.11L244.00,191.88L245.00,191.63L246.00,191.37L247.00,191.10L248.00,190.80L249.00,190.49L250.00,190.15L251.00,189.80L252.00,189.43L253.00,189.03L254.00,188.61L255.00,188.17L256.00,187.70L257.00,187.21L258.00,186.70L259.00,186.16L260.00,185.59L261.00,184.99L262.00,184.37L263.00,183.71L264.00,183.03L265.00,182.32L266.00,181.58L267.00,180.80L268.00,180.00L269.00,179.16L270.00,178.30L271.00,177.40L272.00,176.48L273.00,175.54L274.00,174.57L275.00,173.59L276.00,172.59L277.00,171.58L278.00,170.56L279.00,169.52L280.00,168.48L281.00,167.44L282.00,166.40L283.00,165.42L284.00,164.51L285.00,163.73L286.00,163.10L287.00,162.66L288.00,162.44L289.00,162.48L290.00,162.79L291.00,163.34L292.00,164.12L293.00,165.11L294.00,166.29L295.00,167.66L296.00,169.18L297.00,170.83L298.00,172.56L299.00,174.35L300.00,176.14L301.00,177.90L302.00,179.57L303.00,181.12L304.00,182.51L305.00,183.76L306.00,184.83L307.00,185.72L308.00,186.42L309.00,186.91L310.00,187.22L311.00,187.38L312.00,187.45L313.00,187.47L314.00,187.50L315.00,187.57L316.00,187.71L317.00,187.80L318.00,187.74L319.00,187.41L320.00,186.74L321.00,185.76L322.00,184.57L323.00,183.23L324.00,181.78L325.00,180.27L326.00,178.70L327.00,177.10L328.00,175.49L329.00,173.88L330.00,172.30L331.00,170.76L332.00,169.28L333.00,167.89L334.00,166.61L335.00,165.46L336.00,164.46L337.00,163.64L338.00,163.01L339.00,162.60L340.00,162.40L341.00,162.41L342.00,162.61L343.00,162.99L344.00,163.55L345.00,164.28L346.00,165.15L347.00,166.11L348.00,167.08L349.00,168.03L350.00,168.96L351.00,169.90L352.00,170.90L353.00,171.97L354.00,173.15L355.00,174.37L356.00,175.57L357.00,176.69L358.00,177.70L359.00,178.61L360.00,179.43L361.00,180.17L362.00,180.83L363.00,181.42L364.00,181.95L365.00,182.42L366.00,182.86L367.00,183.26L368.00,183.64L369.00,184.00L370.00,184.35L371.00,184.68L372.00,185.01L373.00,185.33L374.00,185.63L375.00,185.93L376.00,186.22L377.00,186.50L378.00,186.77L379.00,187.03L380.00,187.29L381.00,187.55L382.00,187.79L383.00,188.04L384.00,188.28L385.00,188.51L386.00,188.74L387.00,188.98L388.00,189.21L389.00,189.43L390.00,189.66L391.00,189.89L392.00,190.12L393.00,190.36L394.00,190.59L395.00,190.83L396.00,191.08L397.00,191.33L398.00,191.59L399.00,191.85L400.00,192.12L401.00,192.40L402.00,192.69L403.00,192.99L404.00,193.31L405.00,193.63L406.00,193.97L407.00,194.33L408.00,194.71L409.00,195.11L410.00,195.53L411.00,195.98L412.00,196.47L413.00,197.00" fill="none" stroke="#3f8d65" stroke-width="1.4" stroke-linejoin="round"/>
<path d="M217.00,196.52L218.00,196.19L219.00,195.89L220.00,195.62L221.00,195.37L222.00,195.13L223.00,194.91L224.00,194.70L225.00,194.51L226.00,194.32L227.00,194.14L228.00,193.97L229.00,193.80L230.00,193.64L231.00,193.47L232.00,193.31L233.00,193.14L234.00,192.97L235.00,192.80L236.00,192.62L237.00,192.43L238.00,192.23L239.00,192.02L240.00,191.80L241.00,191.57L242.00,191.32L243.00,191.05L244.00,190.77L245.00,190.47L246.00,190.15L247.00,189.81L248.00,189.44L249.00,189.05L250.00,188.64L251.00,188.21L252.00,187.74L253.00,187.25L254.00,186.73L255.00,186.18L256.00,185.59L257.00,184.98L258.00,184.33L259.00,183.65L260.00,182.93L261.00,182.18L262.00,181.39L263.00,180.57L264.00,179.70L265.00,178.80L266.00,177.85L267.00,176.86L268.00,175.84L269.00,174.77L270.00,173.65L271.00,172.50L272.00,171.32L273.00,170.10L274.00,168.86L275.00,167.59L276.00,166.30L277.00,164.98L278.00,163.66L279.00,162.31L280.00,160.96L281.00,159.59L282.00,158.24L283.00,156.95L284.00,155.77L285.00,154.74L286.00,153.91L287.00,153.34L288.00,153.05L289.00,153.11L290.00,153.51L291.00,154.23L292.00,155.26L293.00,156.55L294.00,158.10L295.00,159.88L296.00,161.86L297.00,164.01L298.00,166.26L299.00,168.57L300.00,170.88L301.00,173.14L302.00,175.28L303.00,177.26L304.00,179.04L305.00,180.62L306.00,181.97L307.00,183.10L308.00,183.98L309.00,184.60L310.00,184.98L311.00,185.19L312.00,185.27L313.00,185.30L314.00,185.33L315.00,185.43L316.00,185.60L317.00,185.71L318.00,185.64L319.00,185.22L320.00,184.38L321.00,183.15L322.00,181.65L323.00,179.95L324.00,178.11L325.00,176.18L326.00,174.17L327.00,172.12L328.00,170.04L329.00,167.96L330.00,165.92L331.00,163.92L332.00,162.00L333.00,160.19L334.00,158.52L335.00,157.01L336.00,155.70L337.00,154.62L338.00,153.80L339.00,153.26L340.00,153.00L341.00,153.01L342.00,153.27L343.00,153.78L344.00,154.51L345.00,155.47L346.00,156.61L347.00,157.86L348.00,159.13L349.00,160.36L350.00,161.57L351.00,162.81L352.00,164.10L353.00,165.50L354.00,167.02L355.00,168.60L356.00,170.15L357.00,171.59L358.00,172.89L359.00,174.06L360.00,175.11L361.00,176.05L362.00,176.89L363.00,177.64L364.00,178.32L365.00,178.93L366.00,179.48L367.00,179.99L368.00,180.47L369.00,180.92L370.00,181.37L371.00,181.79L372.00,182.21L373.00,182.60L374.00,182.99L375.00,183.36L376.00,183.73L377.00,184.08L378.00,184.42L379.00,184.75L380.00,185.08L381.00,185.39L382.00,185.70L383.00,186.01L384.00,186.31L385.00,186.60L386.00,186.89L387.00,187.18L388.00,187.47L389.00,187.75L390.00,188.03L391.00,188.32L392.00,188.61L393.00,188.90L394.00,189.19L395.00,189.48L396.00,189.79L397.00,190.09L398.00,190.41L399.00,190.73L400.00,191.07L401.00,191.41L402.00,191.76L403.00,192.13L404.00,192.51L405.00,192.91L406.00,193.32L407.00,193.75L408.00,194.21L409.00,194.68L410.00,195.18L411.00,195.71L412.00,196.28L413.00,196.89" fill="none" stroke="#398977" stroke-width="1.4" stroke-linejoin="round"/>
<path d="M217.00,196.43L218.00,196.07L219.00,195.74L220.00,195.44L221.00,195.15L222.00,194.89L223.00,194.64L224.00,194.41L225.00,194.19L226.00,193.97L227.00,193.77L228.00,193.58L229.00,193.38L230.00,193.20L231.00,193.01L232.00,192.82L233.00,192.63L234.00,192.44L235.00,192.24L236.00,192.03L237.00,191.81L238.00,191.58L239.00,191.34L240.00,191.09L241.00,190.82L242.00,190.53L243.00,190.22L244.00,189.89L245.00,189.54L246.00,189.17L247.00,188.77L248.00,188.34L249.00,187.89L250.00,187.41L251.00,186.89L252.00,186.34L253.00,185.76L254.00,185.15L255.00,184.50L256.00,183.81L257.00,183.08L258.00,182.31L259.00,181.49L260.00,180.64L261.00,179.74L262.00,178.79L263.00,177.80L264.00,176.76L265.00,175.67L266.00,174.53L267.00,173.34L268.00,172.09L269.00,170.79L270.00,169.44L271.00,168.04L272.00,166.60L273.00,165.11L274.00,163.59L275.00,162.03L276.00,160.45L277.00,158.83L278.00,157.20L279.00,155.54L280.00,153.87L281.00,152.18L282.00,150.51L283.00,148.91L284.00,147.44L285.00,146.17L286.00,145.14L287.00,144.42L288.00,144.07L289.00,144.14L290.00,144.64L291.00,145.54L292.00,146.80L293.00,148.41L294.00,150.33L295.00,152.53L296.00,154.98L297.00,157.63L298.00,160.40L299.00,163.23L300.00,166.06L301.00,168.82L302.00,171.42L303.00,173.82L304.00,175.97L305.00,177.86L306.00,179.49L307.00,180.83L308.00,181.88L309.00,182.62L310.00,183.08L311.00,183.33L312.00,183.43L313.00,183.46L314.00,183.49L315.00,183.61L316.00,183.81L317.00,183.95L318.00,183.86L319.00,183.37L320.00,182.36L321.00,180.90L322.00,179.10L323.00,177.06L324.00,174.85L325.00,172.51L326.00,170.07L327.00,167.57L328.00,165.03L329.00,162.49L330.00,159.98L331.00,157.52L332.00,155.15L333.00,152.92L334.00,150.85L335.00,148.98L336.00,147.36L337.00,146.02L338.00,145.00L339.00,144.32L340.00,144.00L341.00,144.01L342.00,144.34L343.00,144.97L344.00,145.88L345.00,147.06L346.00,148.48L347.00,150.03L348.00,151.61L349.00,153.13L350.00,154.63L351.00,156.15L352.00,157.74L353.00,159.46L354.00,161.33L355.00,163.27L356.00,165.17L357.00,166.93L358.00,168.51L359.00,169.94L360.00,171.21L361.00,172.35L362.00,173.37L363.00,174.28L364.00,175.09L365.00,175.83L366.00,176.49L367.00,177.11L368.00,177.68L369.00,178.23L370.00,178.76L371.00,179.27L372.00,179.77L373.00,180.24L374.00,180.71L375.00,181.15L376.00,181.58L377.00,182.00L378.00,182.41L379.00,182.81L380.00,183.19L381.00,183.57L382.00,183.94L383.00,184.30L384.00,184.65L385.00,185.00L386.00,185.34L387.00,185.68L388.00,186.02L389.00,186.36L390.00,186.69L391.00,187.03L392.00,187.36L393.00,187.70L394.00,188.04L395.00,188.39L396.00,188.75L397.00,189.10L398.00,189.47L399.00,189.85L400.00,190.23L401.00,190.63L402.00,191.04L403.00,191.47L404.00,191.91L405.00,192.36L406.00,192.84L407.00,193.33L408.00,193.84L409.00,194.38L410.00,194.95L411.00,195.54L412.00,196.17L413.00,196.84" fill="none" stroke="#348589" stroke-width="1.4" stroke-linejoin="round"/>
<path d="M217.00,196.26L218.00,195.85L219.00,195.47L220.00,195.12L221.00,194.78L222.00,194.47L223.00,194.18L224.00,193.91L225.00,193.64L226.00,193.39L227.00,193.15L228.00,192.92L229.00,192.69L230.00,192.47L231.00,192.24L232.00,192.02L233.00,191.79L234.00,191.56L235.00,191.32L236.00,191.07L237.00,190.81L238.00,190.53L239.00,190.24L240.00,189.93L241.00,189.61L242.00,189.26L243.00,188.88L244.00,188.49L245.00,188.06L246.00,187.60L247.00,187.12L248.00,186.60L249.00,186.04L250.00,185.45L251.00,184.82L252.00,184.15L253.00,183.43L254.00,182.67L255.00,181.86L256.00,181.01L257.00,180.10L258.00,179.15L259.00,178.13L260.00,177.07L261.00,175.94L262.00,174.76L263.00,173.51L264.00,172.21L265.00,170.83L266.00,169.40L267.00,167.89L268.00,166.31L269.00,164.67L270.00,162.95L271.00,161.17L272.00,159.33L273.00,157.43L274.00,155.49L275.00,153.49L276.00,151.46L277.00,149.39L278.00,147.28L279.00,145.15L280.00,142.99L281.00,140.81L282.00,138.65L283.00,136.57L284.00,134.67L285.00,133.01L286.00,131.68L287.00,130.74L288.00,130.29L289.00,130.38L290.00,131.03L291.00,132.20L292.00,133.84L293.00,135.93L294.00,138.42L295.00,141.26L296.00,144.43L297.00,147.83L298.00,151.40L299.00,155.03L300.00,158.65L301.00,162.15L302.00,165.46L303.00,168.50L304.00,171.21L305.00,173.59L306.00,175.63L307.00,177.31L308.00,178.62L309.00,179.54L310.00,180.11L311.00,180.41L312.00,180.54L313.00,180.58L314.00,180.62L315.00,180.77L316.00,181.02L317.00,181.19L318.00,181.07L319.00,180.46L320.00,179.21L321.00,177.40L322.00,175.14L323.00,172.58L324.00,169.80L325.00,166.84L326.00,163.75L327.00,160.57L328.00,157.33L329.00,154.08L330.00,150.86L331.00,147.70L332.00,144.65L333.00,141.76L334.00,139.08L335.00,136.67L336.00,134.57L337.00,132.83L338.00,131.50L339.00,130.62L340.00,130.20L341.00,130.21L342.00,130.64L343.00,131.45L344.00,132.64L345.00,134.18L346.00,136.02L347.00,138.03L348.00,140.07L349.00,142.04L350.00,143.97L351.00,145.93L352.00,147.98L353.00,150.19L354.00,152.59L355.00,155.08L356.00,157.51L357.00,159.75L358.00,161.77L359.00,163.58L360.00,165.20L361.00,166.64L362.00,167.93L363.00,169.08L364.00,170.11L365.00,171.03L366.00,171.87L367.00,172.64L368.00,173.36L369.00,174.05L370.00,174.72L371.00,175.36L372.00,175.98L373.00,176.58L374.00,177.15L375.00,177.71L376.00,178.25L377.00,178.77L378.00,179.28L379.00,179.77L380.00,180.25L381.00,180.72L382.00,181.17L383.00,181.62L384.00,182.06L385.00,182.49L386.00,182.91L387.00,183.33L388.00,183.75L389.00,184.16L390.00,184.57L391.00,184.98L392.00,185.40L393.00,185.81L394.00,186.23L395.00,186.66L396.00,187.09L397.00,187.53L398.00,187.98L399.00,188.43L400.00,188.90L401.00,189.39L402.00,189.88L403.00,190.39L404.00,190.92L405.00,191.47L406.00,192.04L407.00,192.63L408.00,193.24L409.00,193.88L410.00,194.54L411.00,195.24L412.00,195.97L413.00,196.73" fill="none" stroke="#2d809f" stroke-width="1.4" stroke-linejoin="round"/>
<path d="M217.00,196.13L218.00,195.67L219.00,195.24L220.00,194.83L221.00,194.46L222.00,194.10L223.00,193.77L224.00,193.45L225.00,193.15L226.00,192.86L227.00,192.58L228.00,192.31L229.00,192.05L230.00,191.79L231.00,191.53L232.00,191.27L233.00,191.00L234.00,190.73L235.00,190.45L236.00,190.16L237.00,189.85L238.00,189.53L239.00,189.19L240.00,188.82L241.00,188.44L242.00,188.03L243.00,187.59L244.00,187.12L245.00,186.61L246.00,186.07L247.00,185.49L248.00,184.87L249.00,184.21L250.00,183.50L251.00,182.75L252.00,181.94L253.00,181.08L254.00,180.17L255.00,179.20L256.00,178.17L257.00,177.07L258.00,175.91L259.00,174.69L260.00,173.39L261.00,172.02L262.00,170.58L263.00,169.06L264.00,167.46L265.00,165.78L266.00,164.01L267.00,162.16L268.00,160.21L269.00,158.18L270.00,156.06L271.00,153.85L272.00,151.57L273.00,149.21L274.00,146.79L275.00,144.30L276.00,141.76L277.00,139.17L278.00,136.53L279.00,133.85L280.00,131.14L281.00,128.40L282.00,125.67L283.00,123.06L284.00,120.66L285.00,118.56L286.00,116.87L287.00,115.69L288.00,115.11L289.00,115.22L290.00,116.05L291.00,117.53L292.00,119.61L293.00,122.25L294.00,125.38L295.00,128.97L296.00,132.95L297.00,137.22L298.00,141.68L299.00,146.22L300.00,150.72L301.00,155.07L302.00,159.17L303.00,162.90L304.00,166.24L305.00,169.15L306.00,171.64L307.00,173.69L308.00,175.28L309.00,176.40L310.00,177.08L311.00,177.45L312.00,177.60L313.00,177.65L314.00,177.70L315.00,177.88L316.00,178.18L317.00,178.38L318.00,178.24L319.00,177.51L320.00,176.00L321.00,173.79L322.00,171.05L323.00,167.91L324.00,164.50L325.00,160.86L326.00,157.05L327.00,153.10L328.00,149.08L329.00,145.03L330.00,141.00L331.00,137.05L332.00,133.22L333.00,129.59L334.00,126.22L335.00,123.18L336.00,120.52L337.00,118.32L338.00,116.64L339.00,115.53L340.00,115.00L341.00,115.02L342.00,115.55L343.00,116.59L344.00,118.09L345.00,120.04L346.00,122.36L347.00,124.89L348.00,127.46L349.00,129.94L350.00,132.38L351.00,134.84L352.00,137.41L353.00,140.18L354.00,143.17L355.00,146.27L356.00,149.30L357.00,152.09L358.00,154.59L359.00,156.84L360.00,158.84L361.00,160.62L362.00,162.21L363.00,163.62L364.00,164.89L365.00,166.02L366.00,167.05L367.00,167.99L368.00,168.88L369.00,169.72L370.00,170.53L371.00,171.31L372.00,172.07L373.00,172.79L374.00,173.49L375.00,174.17L376.00,174.83L377.00,175.46L378.00,176.07L379.00,176.67L380.00,177.25L381.00,177.81L382.00,178.37L383.00,178.90L384.00,179.43L385.00,179.95L386.00,180.46L387.00,180.96L388.00,181.46L389.00,181.96L390.00,182.45L391.00,182.95L392.00,183.44L393.00,183.94L394.00,184.44L395.00,184.95L396.00,185.46L397.00,185.98L398.00,186.51L399.00,187.05L400.00,187.61L401.00,188.18L402.00,188.76L403.00,189.36L404.00,189.99L405.00,190.63L406.00,191.29L407.00,191.97L408.00,192.68L409.00,193.42L410.00,194.18L411.00,194.97L412.00,195.79L413.00,196.65" fill="none" stroke="#2479be" stroke-width="1.4" stroke-linejoin="round"/>
<path d="M5.5,204.8 L5.5,200.5 L200.8,200.5 L200.8,204.8 M103.8,200.5 L103.8,204.8" fill="none" stroke="#231f20" stroke-width="1.15" stroke-linejoin="miter"/>
<text x="9.4" y="220.5" font-size="16.5" text-anchor="middle">75</text>
<text x="102.9" y="220.5" font-size="16.5" text-anchor="middle">80</text>
<text x="200.0" y="220.5" font-size="16.5" text-anchor="middle">85</text>
<path d="M217.3,204.8 L217.3,200.5 L412.8,200.5 L412.8,204.8 M315.6,200.5 L315.6,204.8" fill="none" stroke="#231f20" stroke-width="1.15" stroke-linejoin="miter"/>
<text x="221.7" y="220.5" font-size="16.5" text-anchor="middle">75</text>
<text x="314.8" y="220.5" font-size="16.5" text-anchor="middle">80</text>
<text x="416.0" y="220.5" font-size="16.5" text-anchor="middle">85</text>
<text x="54.0" y="236.7" font-size="16.6" textLength="115.2" lengthAdjust="spacingAndGlyphs">Frequency (Hz)</text>
<text x="265.5" y="236.7" font-size="16.6" textLength="116.2" lengthAdjust="spacingAndGlyphs">Frequency (Hz)</text>
<path d="M496.6,18.8 L496.6,200.5 L673.2,200.5" fill="none" stroke="#231f20" stroke-width="1.15"/>
<line x1="493.0" y1="200.20" x2="496.6" y2="200.20" stroke="#231f20" stroke-width="1.15"/>
<text x="489.6" y="203.30" font-size="17" text-anchor="end" letter-spacing="-0.5">0.0</text>
<line x1="493.0" y1="164.85" x2="496.6" y2="164.85" stroke="#231f20" stroke-width="1.15"/>
<text x="489.6" y="168.56" font-size="17" text-anchor="end" letter-spacing="-0.5">0.2</text>
<line x1="493.0" y1="129.50" x2="496.6" y2="129.50" stroke="#231f20" stroke-width="1.15"/>
<text x="489.6" y="133.82" font-size="17" text-anchor="end" letter-spacing="-0.5">0.4</text>
<line x1="493.0" y1="94.15" x2="496.6" y2="94.15" stroke="#231f20" stroke-width="1.15"/>
<text x="489.6" y="99.08" font-size="17" text-anchor="end" letter-spacing="-0.5">0.6</text>
<line x1="493.0" y1="58.80" x2="496.6" y2="58.80" stroke="#231f20" stroke-width="1.15"/>
<text x="489.6" y="64.34" font-size="17" text-anchor="end" letter-spacing="-0.5">0.8</text>
<line x1="493.0" y1="23.45" x2="496.6" y2="23.45" stroke="#231f20" stroke-width="1.15"/>
<text x="489.6" y="29.60" font-size="17" text-anchor="end" letter-spacing="-0.5">1.0</text>
<line x1="504.20" y1="200.5" x2="504.20" y2="204.5" stroke="#231f20" stroke-width="1.15"/>
<text x="503.60" y="218.9" font-size="16.4" text-anchor="middle">0</text>
<line x1="536.60" y1="200.5" x2="536.60" y2="204.5" stroke="#231f20" stroke-width="1.15"/>
<text x="536.00" y="218.9" font-size="16.4" text-anchor="middle">1</text>
<line x1="569.00" y1="200.5" x2="569.00" y2="204.5" stroke="#231f20" stroke-width="1.15"/>
<text x="568.40" y="218.9" font-size="16.4" text-anchor="middle">2</text>
<line x1="601.40" y1="200.5" x2="601.40" y2="204.5" stroke="#231f20" stroke-width="1.15"/>
<text x="600.80" y="218.9" font-size="16.4" text-anchor="middle">3</text>
<line x1="633.80" y1="200.5" x2="633.80" y2="204.5" stroke="#231f20" stroke-width="1.15"/>
<text x="633.20" y="218.9" font-size="16.4" text-anchor="middle">4</text>
<line x1="666.20" y1="200.5" x2="666.20" y2="204.5" stroke="#231f20" stroke-width="1.15"/>
<text x="665.60" y="218.9" font-size="16.4" text-anchor="middle">5</text>
<text x="524.5" y="237.0" font-size="17" textLength="122.6" lengthAdjust="spacingAndGlyphs">Storage Time (s)</text>
<text transform="translate(445.2,188.0) rotate(-90)" x="0" y="0" font-size="17.2" textLength="156.5" lengthAdjust="spacingAndGlyphs">Normalized Integral</text>
<text transform="translate(461.8,171.2) rotate(-90)" x="0" y="0" font-size="17.2" textLength="124.6" lengthAdjust="spacingAndGlyphs">of Proton Peaks</text>
<path d="M504.20,23.40L505.67,28.78L507.15,34.04L508.62,39.16L510.09,44.13L511.56,48.94L513.04,53.59L514.51,58.06L515.98,62.35L517.45,66.44L518.93,70.33L520.40,74.00L521.87,77.48L523.35,80.80L524.82,83.98L526.29,87.03L527.76,89.96L529.24,92.80L530.71,95.55L532.18,98.23L533.65,100.86L535.13,103.44L536.60,106.00L538.07,108.54L539.55,111.06L541.02,113.54L542.49,115.97L543.96,118.36L545.44,120.67L546.91,122.92L548.38,125.09L549.85,127.16L551.33,129.14L552.80,131.00L554.27,132.78L555.75,134.50L557.22,136.17L558.69,137.78L560.16,139.34L561.64,140.84L563.11,142.28L564.58,143.67L566.05,145.00L567.53,146.28L569.00,147.50L570.47,148.67L571.95,149.80L573.42,150.88L574.89,151.93L576.36,152.94L577.84,153.91L579.31,154.86L580.78,155.78L582.25,156.67L583.73,157.55L585.20,158.40L586.67,159.23L588.15,160.03L589.62,160.81L591.09,161.57L592.56,162.31L594.04,163.03L595.51,163.74L596.98,164.44L598.45,165.13L599.93,165.82L601.40,166.50L602.87,167.19L604.35,167.88L605.82,168.58L607.29,169.27L608.76,169.95L610.24,170.61L611.71,171.26L613.18,171.87L614.65,172.45L616.13,173.00L617.60,173.50L619.07,173.96L620.55,174.39L622.02,174.80L623.49,175.19L624.96,175.56L626.44,175.92L627.91,176.28L629.38,176.63L630.85,176.98L632.33,177.33L633.80,177.70L635.27,178.07L636.75,178.45L638.22,178.82L639.69,179.19L641.16,179.56L642.64,179.93L644.11,180.29L645.58,180.65L647.05,181.01L648.53,181.36L650.00,181.70L651.47,182.04L652.95,182.37L654.42,182.70L655.89,183.03L657.36,183.35L658.84,183.67L660.31,183.98L661.78,184.29L663.25,184.60L664.73,184.90L666.20,185.20" fill="none" stroke="#3cb86e" stroke-width="1.4"/>
<path d="M501.00,20.50 L507.40,20.50 L504.20,26.70 Z" fill="#3cb86e"/>
<path d="M517.20,71.10 L523.60,71.10 L520.40,77.30 Z" fill="#3cb86e"/>
<path d="M533.40,103.10 L539.80,103.10 L536.60,109.30 Z" fill="#3cb86e"/>
<path d="M549.60,128.10 L556.00,128.10 L552.80,134.30 Z" fill="#3cb86e"/>
<path d="M565.80,144.60 L572.20,144.60 L569.00,150.80 Z" fill="#3cb86e"/>
<path d="M582.00,155.50 L588.40,155.50 L585.20,161.70 Z" fill="#3cb86e"/>
<path d="M598.20,163.60 L604.60,163.60 L601.40,169.80 Z" fill="#3cb86e"/>
<path d="M614.40,170.60 L620.80,170.60 L617.60,176.80 Z" fill="#3cb86e"/>
<path d="M630.60,174.80 L637.00,174.80 L633.80,181.00 Z" fill="#3cb86e"/>
<path d="M646.80,178.80 L653.20,178.80 L650.00,185.00 Z" fill="#3cb86e"/>
<path d="M663.00,182.30 L669.40,182.30 L666.20,188.50 Z" fill="#3cb86e"/>
<path d="M504.20,23.40L505.67,26.97L507.15,30.49L508.62,33.96L510.09,37.37L511.56,40.72L513.04,44.01L514.51,47.24L515.98,50.40L517.45,53.50L518.93,56.54L520.40,59.50L521.87,62.41L523.35,65.28L524.82,68.11L526.29,70.89L527.76,73.61L529.24,76.28L530.71,78.89L532.18,81.43L533.65,83.89L535.13,86.29L536.60,88.60L538.07,90.83L539.55,92.99L541.02,95.09L542.49,97.13L543.96,99.12L545.44,101.07L546.91,102.98L548.38,104.88L549.85,106.76L551.33,108.63L552.80,110.50L554.27,112.39L555.75,114.29L557.22,116.19L558.69,118.08L560.16,119.95L561.64,121.78L563.11,123.57L564.58,125.30L566.05,126.95L567.53,128.52L569.00,130.00L570.47,131.39L571.95,132.70L573.42,133.96L574.89,135.17L576.36,136.34L577.84,137.48L579.31,138.61L580.78,139.72L582.25,140.83L583.73,141.96L585.20,143.10L586.67,144.27L588.15,145.46L589.62,146.65L591.09,147.85L592.56,149.04L594.04,150.21L595.51,151.35L596.98,152.46L598.45,153.53L599.93,154.54L601.40,155.50L602.87,156.41L604.35,157.28L605.82,158.12L607.29,158.94L608.76,159.73L610.24,160.49L611.71,161.24L613.18,161.97L614.65,162.69L616.13,163.40L617.60,164.10L619.07,164.79L620.55,165.46L622.02,166.13L623.49,166.78L624.96,167.41L626.44,168.04L627.91,168.65L629.38,169.25L630.85,169.85L632.33,170.43L633.80,171.00L635.27,171.56L636.75,172.12L638.22,172.66L639.69,173.20L641.16,173.73L642.64,174.24L644.11,174.75L645.58,175.25L647.05,175.75L648.53,176.23L650.00,176.70L651.47,177.16L652.95,177.62L654.42,178.07L655.89,178.52L657.36,178.95L658.84,179.38L660.31,179.80L661.78,180.21L663.25,180.62L664.73,181.01L666.20,181.40" fill="none" stroke="#b5652a" stroke-width="1.4"/>
<circle cx="504.20" cy="23.40" r="3.1" fill="#b5652a"/>
<circle cx="520.40" cy="59.50" r="3.1" fill="#b5652a"/>
<circle cx="536.60" cy="88.60" r="3.1" fill="#b5652a"/>
<circle cx="552.80" cy="110.50" r="3.1" fill="#b5652a"/>
<circle cx="569.00" cy="130.00" r="3.1" fill="#b5652a"/>
<circle cx="585.20" cy="143.10" r="3.1" fill="#b5652a"/>
<circle cx="601.40" cy="155.50" r="3.1" fill="#b5652a"/>
<circle cx="617.60" cy="164.10" r="3.1" fill="#b5652a"/>
<circle cx="633.80" cy="171.00" r="3.1" fill="#b5652a"/>
<circle cx="650.00" cy="176.70" r="3.1" fill="#b5652a"/>
<circle cx="666.20" cy="181.40" r="3.1" fill="#b5652a"/>
<text x="532.42" y="32.60" font-size="12.4" font-style="italic" textLength="5.95" lengthAdjust="spacingAndGlyphs">T</text>
<path d="M540.1,32.30 L541.5,28.20 L539.6,29.20" fill="none" stroke="#231f20" stroke-width="1.0" stroke-linejoin="round"/>
<text x="544.95" y="32.60" font-size="12.2"  textLength="12.82" lengthAdjust="spacingAndGlyphs">(H</text>
<text x="557.59" y="34.50" font-size="7.0"  textLength="4.81" lengthAdjust="spacingAndGlyphs">2</text>
<text x="562.50" y="32.60" font-size="12.2"  textLength="13.49" lengthAdjust="spacingAndGlyphs">O)</text>
<text x="578.90" y="32.60" font-size="12.2"  textLength="8.55" lengthAdjust="spacingAndGlyphs">=</text>
<text x="591.61" y="32.60" font-size="12.2"  textLength="47.54" lengthAdjust="spacingAndGlyphs">1.24(3) s</text>
<text x="532.42" y="48.60" font-size="12.4" font-style="italic" textLength="5.95" lengthAdjust="spacingAndGlyphs">T</text>
<path d="M540.1,48.30 L541.5,44.20 L539.6,45.20" fill="none" stroke="#231f20" stroke-width="1.0" stroke-linejoin="round"/>
<text x="544.93" y="48.60" font-size="12.2"  textLength="48.64" lengthAdjust="spacingAndGlyphs">(MP in H</text>
<text x="593.29" y="50.50" font-size="7.0"  textLength="4.81" lengthAdjust="spacingAndGlyphs">2</text>
<text x="598.00" y="48.60" font-size="12.2"  textLength="13.49" lengthAdjust="spacingAndGlyphs">O)</text>
<text x="614.26" y="48.60" font-size="12.2"  textLength="9.14" lengthAdjust="spacingAndGlyphs">=</text>
<text x="626.05" y="48.60" font-size="12.2"  textLength="40.97" lengthAdjust="spacingAndGlyphs">4.8(5) s</text>
<text x="532.42" y="64.50" font-size="12.4" font-style="italic" textLength="5.95" lengthAdjust="spacingAndGlyphs">T</text>
<path d="M540.1,64.20 L541.5,60.10 L539.6,61.10" fill="none" stroke="#231f20" stroke-width="1.0" stroke-linejoin="round"/>
<text x="544.93" y="64.50" font-size="12.2"  textLength="48.68" lengthAdjust="spacingAndGlyphs">(MP in D</text>
<text x="593.59" y="66.40" font-size="7.0"  textLength="4.81" lengthAdjust="spacingAndGlyphs">2</text>
<text x="598.63" y="64.50" font-size="12.2"  textLength="12.83" lengthAdjust="spacingAndGlyphs">O)</text>
<text x="614.26" y="64.50" font-size="12.2"  textLength="9.14" lengthAdjust="spacingAndGlyphs">=</text>
<text x="626.31" y="64.50" font-size="12.2"  textLength="47.35" lengthAdjust="spacingAndGlyphs">2.38(3) s</text>
<rect x="498.1" y="166.7" width="97.6" height="31.5" fill="#fff" stroke="#231f20" stroke-width="1.1"/>
<line x1="498.6" y1="174.5" x2="511.1" y2="174.5" stroke="#3cb86e" stroke-width="1.4"/>
<path d="M501.80,172.40 L508.20,172.40 L505.00,177.00 Z" fill="#3cb86e"/>
<line x1="498.6" y1="189.4" x2="511.1" y2="189.4" stroke="#b5652a" stroke-width="1.4"/>
<circle cx="504.8" cy="189.4" r="2.6" fill="#b5652a"/>
<text x="514.25" y="174.60" font-size="8.4"  textLength="6.58" lengthAdjust="spacingAndGlyphs">15</text>
<text x="520.89" y="178.60" font-size="12.5"  textLength="58.04" lengthAdjust="spacingAndGlyphs">N-MP in H</text>
<text x="578.41" y="180.50" font-size="7.2"  textLength="4.69" lengthAdjust="spacingAndGlyphs">2</text>
<text x="583.41" y="178.60" font-size="12.5"  textLength="9.46" lengthAdjust="spacingAndGlyphs">O</text>
<text x="514.25" y="189.30" font-size="8.4"  textLength="6.58" lengthAdjust="spacingAndGlyphs">15</text>
<text x="520.90" y="193.30" font-size="12.5"  textLength="57.37" lengthAdjust="spacingAndGlyphs">N-MP in D</text>
<text x="578.41" y="195.20" font-size="7.2"  textLength="4.69" lengthAdjust="spacingAndGlyphs">2</text>
<text x="583.73" y="193.30" font-size="12.5"  textLength="9.12" lengthAdjust="spacingAndGlyphs">O</text>
</svg></body></html>
